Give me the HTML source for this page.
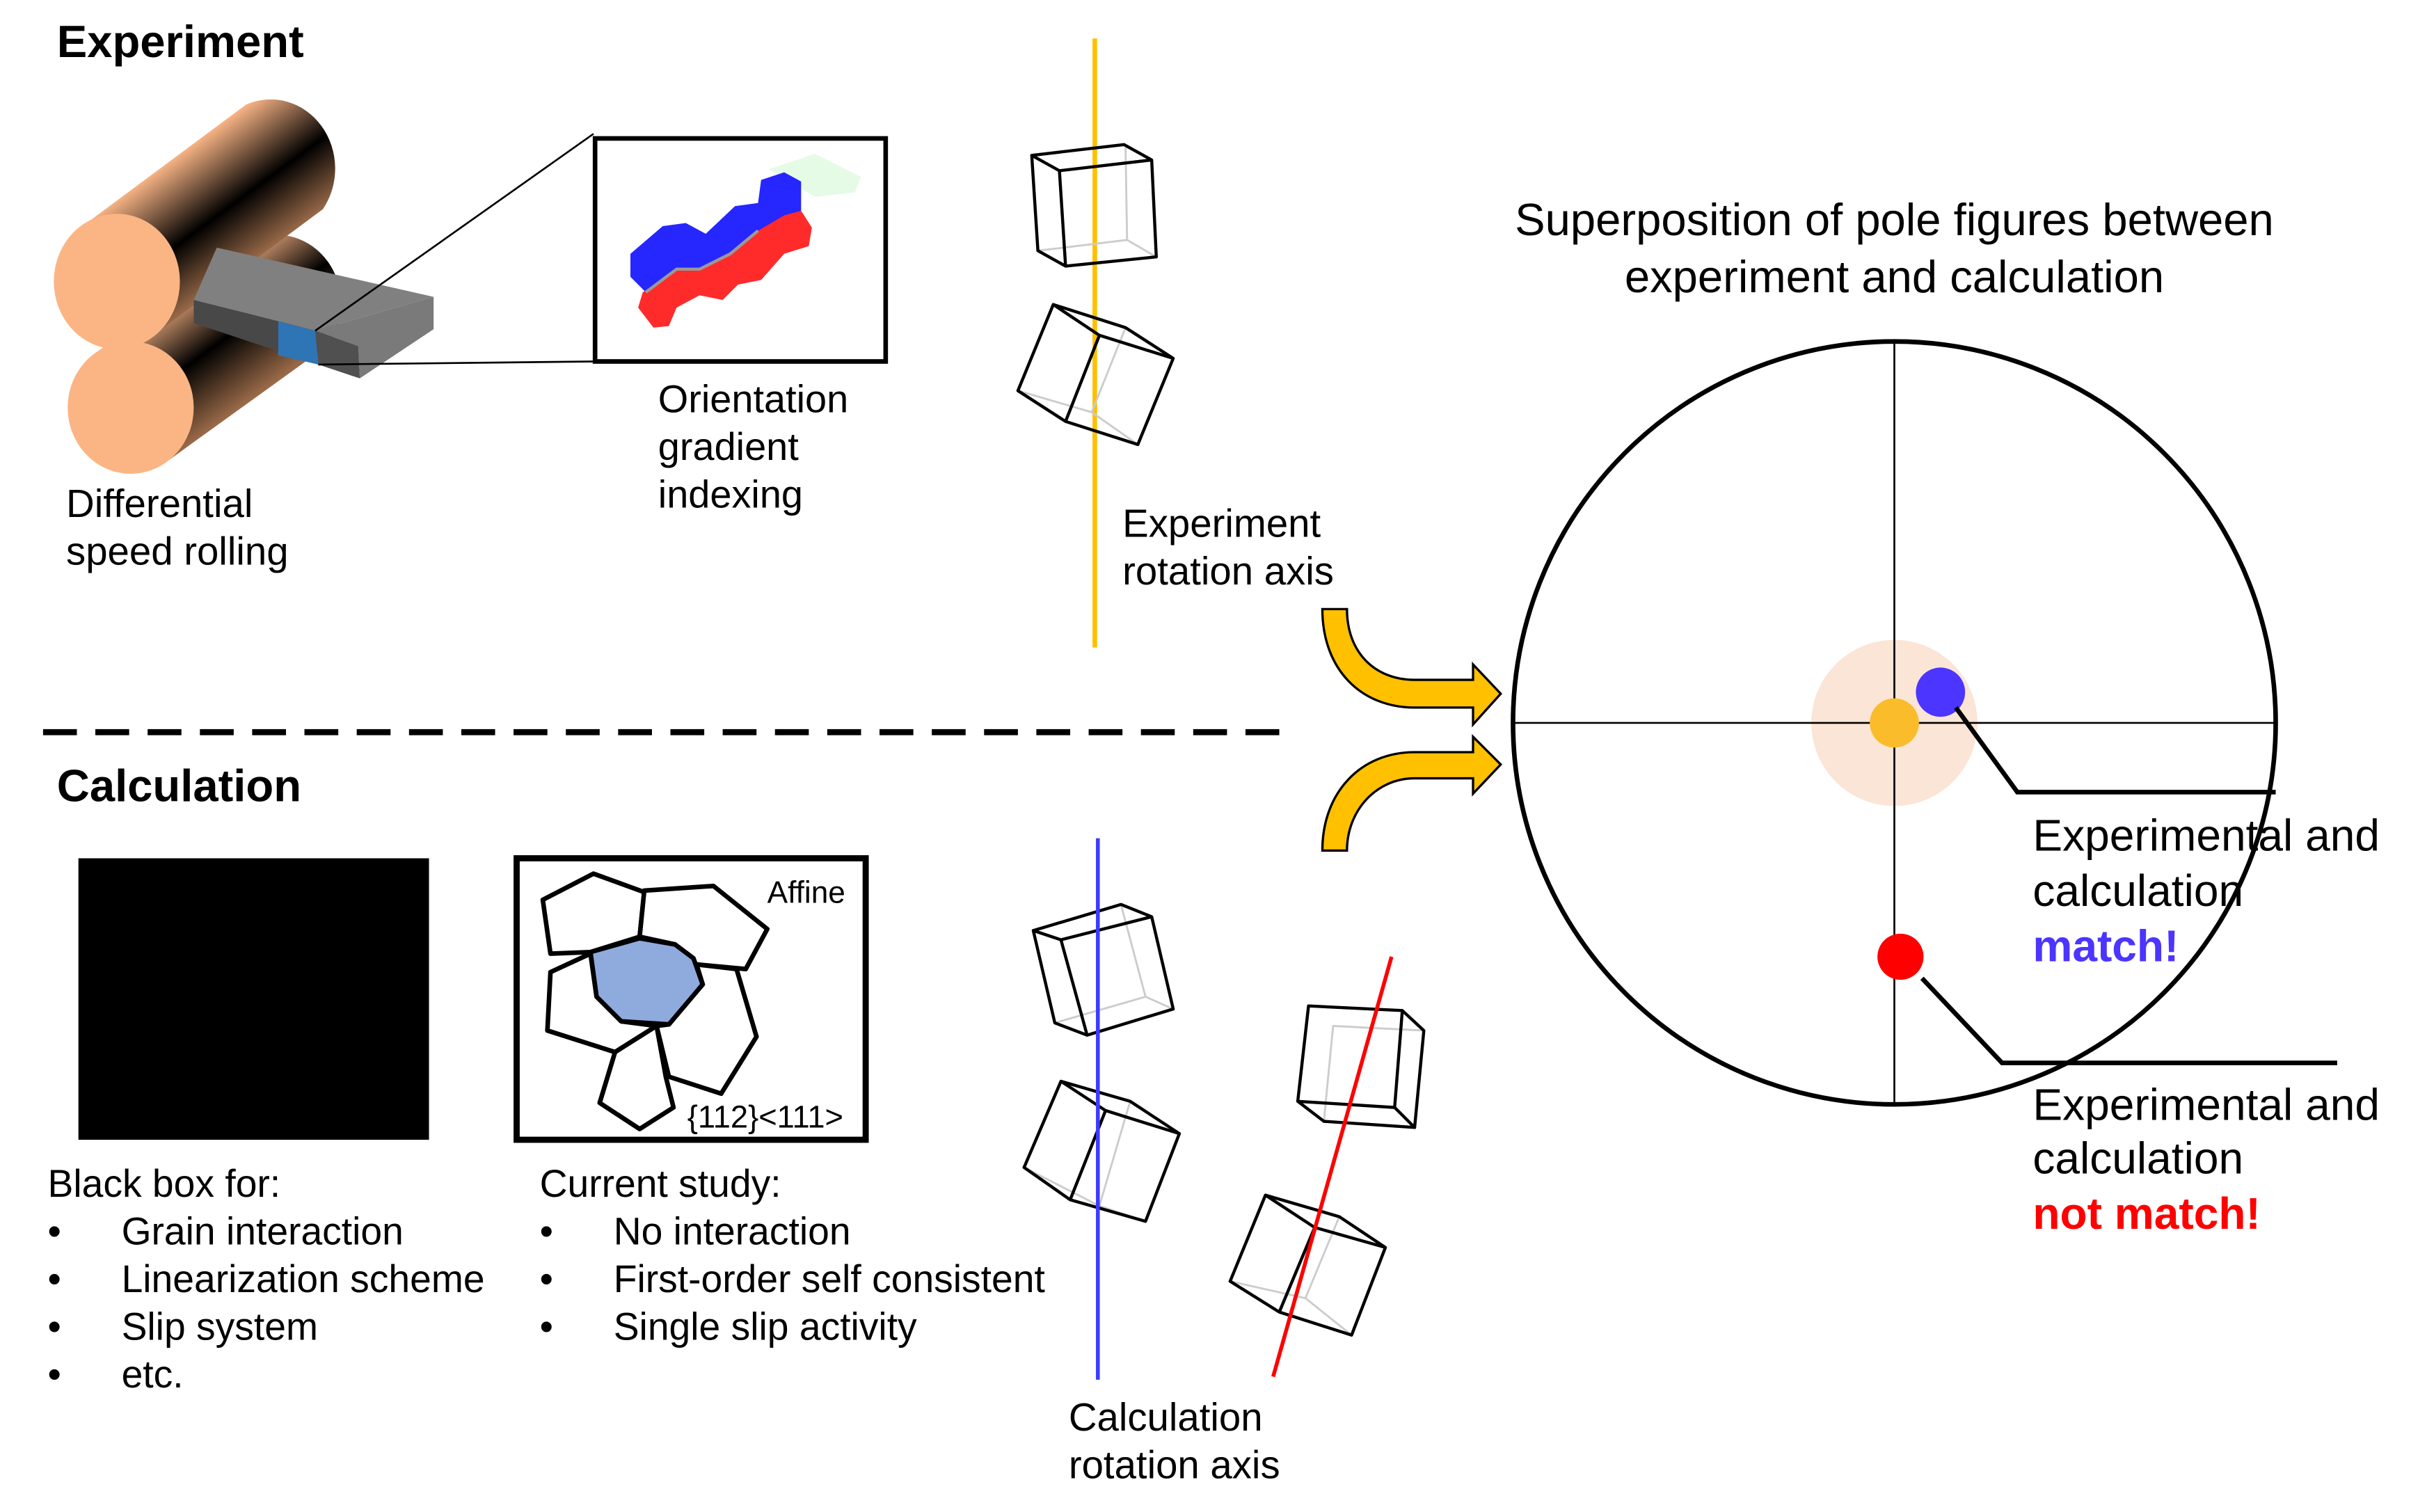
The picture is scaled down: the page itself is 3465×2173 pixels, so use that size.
<!DOCTYPE html>
<html><head><meta charset="utf-8"><style>
html,body{margin:0;padding:0;background:#fff;}
svg{display:block;}
text{font-family:"Liberation Sans",Arial,sans-serif;fill:#000;}
</style></head><body>
<svg width="3465" height="2173" viewBox="0 0 1568 983" preserveAspectRatio="none" xmlns="http://www.w3.org/2000/svg">
<defs>
<linearGradient id="cyl" gradientUnits="userSpaceOnUse" x1="51" y1="149" x2="101" y2="217">
<stop offset="0" stop-color="#f4b183"/><stop offset="0.55" stop-color="#000"/><stop offset="1" stop-color="#9a6a48"/>
</linearGradient>
<linearGradient id="cyl2" gradientUnits="userSpaceOnUse" x1="60" y1="231" x2="110" y2="299">
<stop offset="0" stop-color="#f4b183"/><stop offset="0.5" stop-color="#000"/><stop offset="1" stop-color="#9a6a48"/>
</linearGradient>
</defs>
<rect width="1568" height="983" fill="#fff"/>

<text x="37" y="37" font-size="29.5" font-weight="bold">Experiment</text>

<path d="M60,231 L164,156 A42,45 0 0,1 214,224 L110,299 Z" fill="url(#cyl2)"/>
<ellipse cx="85" cy="265" rx="41" ry="43" fill="#fbb584"/>
<path d="M51,149 L160,68 A42,45 0 0,1 210,136 L101,217 Z" fill="url(#cyl)"/>
<ellipse cx="76" cy="183" rx="41" ry="44" fill="#fbb584"/>
<polygon points="141,161 282,193 205,215 126,195" fill="#808080"/>
<polygon points="126,195 205,215 207,237 126,210" fill="#484848"/>
<polygon points="181,209 205,215 207,237 181,231" fill="#2e75b6"/>
<polygon points="205,215 282,193 282,214 234,246 233,225" fill="#7a7a7a"/>
<polygon points="205,215 233,225 234,246 207,237" fill="#505050"/>
<line x1="205" y1="215" x2="386" y2="87" stroke="#000" stroke-width="1.2"/>
<line x1="207" y1="237" x2="386" y2="235" stroke="#000" stroke-width="1.2"/>

<rect x="387" y="90" width="189" height="145" fill="#fff" stroke="#000" stroke-width="3"/>
<polygon points="500,110 530,100 560,115 556,125 530,128" fill="#e6fbe6"/>
<polygon points="410,165 431,147 446,145 459,152 478,134 493,132 495,117 510,112 521,118 521,137 493,150 475,165 455,175 440,175 420,190 410,180" fill="#2626ff"/>
<polygon points="418,190 440,175 455,175 475,165 493,150 510,140 521,137 528,148 526,160 510,165 495,182 480,185 470,195 455,192 440,200 435,212 425,213 415,200" fill="#ff2b2b"/>
<polyline points="493,150 475,165 455,175 440,175 420,190" fill="none" stroke="#999" stroke-width="2"/>

<text font-size="25.3"><tspan x="428" y="268">Orientation</tspan><tspan x="428" y="299">gradient</tspan><tspan x="428" y="330">indexing</tspan></text>
<text font-size="25.5"><tspan x="43" y="336">Differential</tspan><tspan x="43" y="367">speed rolling</tspan></text>

<line x1="712" y1="25" x2="712" y2="421" stroke="#ffc000" stroke-width="3"/>
<g fill="none" stroke-linejoin="round">
<g stroke="#ccc" stroke-width="1.3">
<polyline points="732,96 733,156 675,163"/><line x1="733" y1="156" x2="752" y2="167"/>
<polyline points="732,213 710,268 662,254"/><line x1="710" y1="268" x2="740" y2="289"/>
<polyline points="729,588 745,648 686,665"/><line x1="745" y1="648" x2="763" y2="656"/>
<polyline points="735,716 715,784 666,759"/><line x1="715" y1="784" x2="745" y2="794"/>
<polyline points="926,670 867,667 861,729"/>
<polyline points="871,791 849,844 800,833"/><line x1="849" y1="844" x2="879" y2="868"/>
</g>
<g stroke="#000" stroke-width="2">
<polygon points="671,101 731,94 749,104 752,167 693,173 675,163"/><polyline points="671,101 689,111 749,104"/><line x1="689" y1="111" x2="693" y2="173"/>
<polygon points="685,198 732,213 763,233 740,289 693,274 662,254"/><polyline points="685,198 715,218 763,233"/><line x1="715" y1="218" x2="693" y2="274"/>
<polygon points="672,605 729,588 749,596 763,656 707,673 686,665"/><polyline points="672,605 690,611 749,596"/><line x1="690" y1="611" x2="707" y2="673"/>
<polygon points="690,703 735,716 767,737 745,794 696,780 666,759"/><polyline points="690,703 719,722 767,737"/><line x1="719" y1="722" x2="696" y2="780"/>
<polygon points="851,654 912,657 926,670 920,733 861,729 844,716"/><polyline points="912,657 907,720 844,716"/><line x1="907" y1="720" x2="920" y2="733"/>
<polygon points="823,777 871,791 901,811 879,868 832,853 800,833"/><polyline points="823,777 855,798 901,811"/><line x1="855" y1="798" x2="832" y2="853"/>
</g>
</g>
<text font-size="25.5"><tspan x="730" y="349">Experiment</tspan><tspan x="730" y="380">rotation axis</tspan></text>

<line x1="28" y1="476" x2="840" y2="476" stroke="#000" stroke-width="4" stroke-dasharray="22,12"/>

<text x="37" y="521" font-size="29.5" font-weight="bold">Calculation</text>
<rect x="51" y="558" width="228" height="183" fill="#000"/>
<rect x="336" y="558" width="227" height="183" fill="#fff" stroke="#000" stroke-width="4"/>
<g stroke="#000" stroke-width="3" stroke-linejoin="round" fill="#fff">
<polygon points="353,585 386,568 419,580 416,609 384,619 358,620"/>
<polygon points="419,579 464,576 499,604 485,630 453,627 439,614 416,609"/>
<polygon points="384,620 358,632 356,670 400,684 427,667 404,664 388,648"/>
<polygon points="400,684 390,717 416,734 438,720 433,700 427,667"/>
<polygon points="453,627 479,630 492,674 469,711 435,700 427,667 435,666 457,640"/>
<polygon points="384,619 416,610 439,614 451,623 457,640 435,666 404,664 388,648" fill="#8faadc"/>
</g>
<text x="499" y="587" font-size="20">Affine</text>
<text x="447" y="733" font-size="20.5">{112}&lt;111&gt;</text>

<text font-size="25">
<tspan x="31" y="778">Black box for:</tspan>
<tspan x="31" y="809">•</tspan><tspan x="79" y="809">Grain interaction</tspan>
<tspan x="31" y="840">•</tspan><tspan x="79" y="840">Linearization scheme</tspan>
<tspan x="31" y="871">•</tspan><tspan x="79" y="871">Slip system</tspan>
<tspan x="31" y="902">•</tspan><tspan x="79" y="902">etc.</tspan>
</text>
<text font-size="25">
<tspan x="351" y="778">Current study:</tspan>
<tspan x="351" y="809">•</tspan><tspan x="399" y="809">No interaction</tspan>
<tspan x="351" y="840">•</tspan><tspan x="399" y="840">First-order self consistent</tspan>
<tspan x="351" y="871">•</tspan><tspan x="399" y="871">Single slip activity</tspan>
</text>

<line x1="714" y1="545" x2="714" y2="897" stroke="#3b3bff" stroke-width="2.5"/>
<line x1="905" y1="622" x2="828" y2="895" stroke="#ff0000" stroke-width="2.5"/>
<text font-size="25.5"><tspan x="695" y="930">Calculation</tspan><tspan x="695" y="961">rotation axis</tspan></text>

<path d="M860,396 L876,396 C876,425 895,442 920,442 L958,442 L958,432 L976,451 L958,471 L958,460 L920,460 C885,460 860,435 860,396 Z" fill="#ffc000" stroke="#000" stroke-width="1.5"/>
<path d="M860,553 L876,553 C876,527 895,506 920,506 L958,506 L958,516 L976,497 L958,479 L958,489 L920,489 C885,489 860,515 860,553 Z" fill="#ffc000" stroke="#000" stroke-width="1.5"/>

<text font-size="29.5" text-anchor="middle"><tspan x="1232" y="153">Superposition of pole figures between</tspan><tspan x="1232" y="190">experiment and calculation</tspan></text>
<circle cx="1232" cy="470" r="54" fill="#fbe5d6"/>
<line x1="985" y1="470" x2="1480" y2="470" stroke="#000" stroke-width="1.2"/>
<line x1="1232" y1="223" x2="1232" y2="718" stroke="#000" stroke-width="1.2"/>
<ellipse cx="1232" cy="470" rx="248" ry="248" fill="none" stroke="#000" stroke-width="3"/>
<circle cx="1232" cy="470" r="16" fill="#fbbc2c"/>
<circle cx="1262" cy="450" r="16" fill="#4b35ff"/>
<circle cx="1236" cy="622" r="15" fill="#ff0000"/>
<polyline points="1272,460 1312,515 1480,515" fill="none" stroke="#000" stroke-width="3"/>
<polyline points="1250,636 1302,691 1520,691" fill="none" stroke="#000" stroke-width="3"/>
<text font-size="29"><tspan x="1322" y="553">Experimental and</tspan><tspan x="1322" y="589">calculation</tspan></text>
<text x="1322" y="625" font-size="29" font-weight="bold" style="fill:#4b35ff">match!</text>
<text font-size="29"><tspan x="1322" y="728">Experimental and</tspan><tspan x="1322" y="763">calculation</tspan></text>
<text x="1322" y="799" font-size="29" font-weight="bold" style="fill:#ff0000">not match!</text>
</svg>
</body></html>
